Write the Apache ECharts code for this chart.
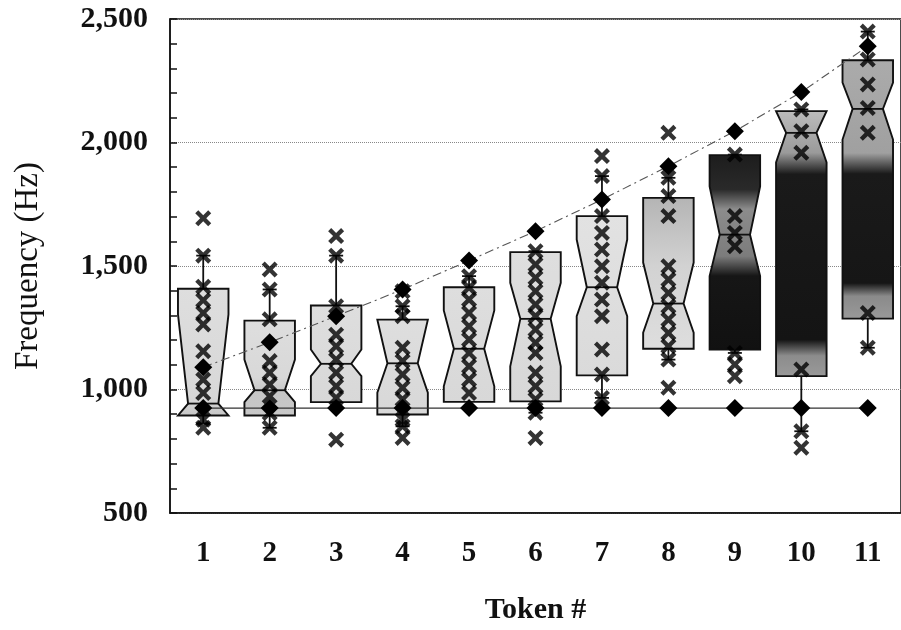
<!DOCTYPE html>
<html>
<head>
<meta charset="utf-8">
<script src="https://cdn.jsdelivr.net/npm/echarts@6/dist/echarts.min.js"></script>
<style>
html, body { margin: 0; padding: 0; background: #fff; }
#main { width: 901px; height: 630px; }
</style>
</head>
<body>
<div id="main"></div>
<script>
// token categories
var tokens = ['1', '2', '3', '4', '5', '6', '7', '8', '9', '10', '11'];

// notched box values (Hz)
var q1 = [895, 895, 949, 899, 950, 952, 1057, 1165, 1162, 1054, 1287];
var q3 = [1408, 1279, 1340, 1283, 1414, 1556, 1702, 1776, 1949, 2127, 2333];
var median = [943, 997, 1104, 1106, 1165, 1286, 1414, 1348, 1627, 2039, 2136];
var notchLo = [895, 949, 1054, 987, 1013, 1094, 1297, 1230, 1459, 1919, 2012];
var notchHi = [1304, 1121, 1162, 1283, 1320, 1432, 1607, 1514, 1822, 2127, 2243];
var whiskerLo = [862, 845, 925, 851, 950, 906, 966, 1121, 1148, 831, 1169];
var whiskerHi = [1542, 1405, 1542, 1337, 1459, 1560, 1864, 1857, 1951, 2134, 2449];

// individual measurements (x markers)
var points = [
  [1693, 1542, 1416, 1361, 1310, 1263, 1155, 1040, 986, 878, 845],
  [1486, 1405, 1284, 1115, 1068, 1020, 973, 905, 845],
  [1621, 1542, 1337, 1222, 1175, 1121, 1068, 1013, 966, 797],
  [1398, 1337, 1297, 1169, 1115, 1061, 1007, 960, 878, 851, 804],
  [1459, 1412, 1364, 1310, 1256, 1202, 1148, 1094, 1040, 986],
  [1560, 1506, 1452, 1398, 1344, 1297, 1243, 1189, 1148, 1068, 1013, 960, 906, 804],
  [1945, 1864, 1702, 1634, 1567, 1499, 1432, 1364, 1297, 1162, 1061, 966],
  [2039, 1857, 1783, 1702, 1499, 1445, 1391, 1337, 1283, 1229, 1175, 1121, 1007],
  [1951, 1702, 1634, 1580, 1148, 1101, 1054],
  [2134, 2046, 1958, 1081, 831, 764],
  [2449, 2336, 2235, 2140, 2039, 1310, 1169]
];

// diamond series
var upperDiamonds = [1090, 1191, 1297, 1405, 1522, 1641, 1769, 1904, 2046, 2204, 2390];
var lowerDiamonds = [925, 925, 925, 925, 925, 925, 925, 925, 925, 925, 925];

// box shading (top -> bottom)
var light = [[0, '#dedede'], [1, '#d8d8d8']];
var boxShade = [
  [[0, '#dedede'], [0.85, '#d8d8d8'], [1, '#c6c6c6']],
  [[0, '#dedede'], [0.6, '#d8d8d8'], [0.75, '#c6c6c6'], [1, '#c8c8c8']],
  light, light, light, light,
  [[0, '#e2e2e2'], [1, '#dadada']],
  [[0, '#b4b4b4'], [0.45, '#d2d2d2'], [1, '#dedede']],
  [[0, '#1c1c1c'], [0.18, '#2a2a2a'], [0.28, '#8c8c8c'], [0.52, '#7c7c7c'], [0.62, '#161616'], [1, '#111111']],
  [[0, '#bdbdbd'], [0.16, '#9a9a9a'], [0.24, '#1a1a1a'], [0.86, '#141414'], [0.92, '#8c8c8c'], [1, '#9a9a9a']],
  [[0, '#ababab'], [0.36, '#a0a0a0'], [0.44, '#1a1a1a'], [0.86, '#161616'], [0.91, '#8a8a8a'], [1, '#9a9a9a']]
];

var boxData = tokens.map(function (t, i) {
  return [i, q1[i], q3[i], median[i], notchLo[i], notchHi[i], whiskerLo[i], whiskerHi[i]];
});

var xData = [];
points.forEach(function (list, i) {
  list.forEach(function (v) { xData.push([i, v]); });
});

var crossPath = 'path://M0,1.9 L1.9,0 L5,3.1 L8.1,0 L10,1.9 L6.9,5 L10,8.1 L8.1,10 L5,6.9 L1.9,10 L0,8.1 L3.1,5 Z';
var serif = 'Liberation Serif';

function renderBox(params, api) {
  var i = api.value(0);
  var lo = api.value(1), hi = api.value(2), med = api.value(3);
  var nlo = Math.max(api.value(4), lo), nhi = Math.min(api.value(5), hi);
  var wlo = api.value(6), whi = api.value(7);
  var cx = api.coord([i, med])[0];
  var half = api.size([1, 0])[0] * 0.38;
  var inset = half * 0.4;
  var y = function (v) { return api.coord([i, v])[1]; };
  var xl = cx - half, xr = cx + half;
  var ln = { stroke: '#111', lineWidth: 1.8 };
  var kids = [];
  if (whi > hi) {
    kids.push({ type: 'line', shape: { x1: cx, y1: y(hi), x2: cx, y2: y(whi) }, style: ln });
    kids.push({ type: 'line', shape: { x1: cx - 7, y1: y(whi), x2: cx + 7, y2: y(whi) }, style: ln });
  }
  if (wlo < lo) {
    kids.push({ type: 'line', shape: { x1: cx, y1: y(lo), x2: cx, y2: y(wlo) }, style: ln });
    kids.push({ type: 'line', shape: { x1: cx - 7, y1: y(wlo), x2: cx + 7, y2: y(wlo) }, style: ln });
  }
  kids.push({
    type: 'polygon',
    shape: {
      points: [
        [xl, y(hi)], [xr, y(hi)], [xr, y(nhi)], [xr - inset, y(med)], [xr, y(nlo)],
        [xr, y(lo)], [xl, y(lo)], [xl, y(nlo)], [xl + inset, y(med)], [xl, y(nhi)]
      ]
    },
    style: {
      fill: new echarts.graphic.LinearGradient(0, 0, 0, 1, boxShade[i].map(function (s) {
        return { offset: s[0], color: s[1] };
      })),
      stroke: '#111',
      lineWidth: 1.9
    }
  });
  kids.push({
    type: 'line',
    shape: { x1: xl + inset, y1: y(med), x2: xr - inset, y2: y(med) },
    style: ln
  });
  return { type: 'group', children: kids };
}

var chart = echarts.init(document.getElementById('main'));
chart.setOption({
  backgroundColor: '#fff',
  animation: false,
  grid: {
    left: 170, top: 19, width: 737, height: 495,
    show: true, borderColor: '#111', borderWidth: 1.5
  },
  xAxis: {
    type: 'category',
    data: tokens,
    boundaryGap: true,
    axisLine: { lineStyle: { color: '#111', width: 1.5 } },
    axisTick: { inside: true, length: 11, lineStyle: { color: '#111', width: 1.5 } },
    axisLabel: { margin: 26, fontSize: 29, fontWeight: 'bold', fontFamily: serif, color: '#111' },
    splitLine: { show: false },
    name: 'Token #',
    nameLocation: 'middle',
    nameGap: 82,
    nameTextStyle: { fontSize: 30, fontWeight: 'bold', fontFamily: serif, color: '#111' }
  },
  yAxis: {
    type: 'value',
    min: 500, max: 2500, interval: 500,
    axisLine: { show: true, lineStyle: { color: '#111', width: 1.5 } },
    axisTick: { show: true, inside: true, length: 7, lineStyle: { color: '#111', width: 1.5 } },
    minorTick: { show: true, splitNumber: 5, length: 7, lineStyle: { color: '#111', width: 1.5 } },
    splitLine: { show: true, lineStyle: { color: '#888', type: 'dotted', width: 1 } },
    axisLabel: {
      margin: 22, fontSize: 30, fontWeight: 'bold', fontFamily: serif, color: '#111',
      formatter: function (v) { return v.toLocaleString('en-US'); }
    },
    name: 'Frequency (Hz)',
    nameLocation: 'middle',
    nameGap: 125,
    nameRotate: 90,
    nameTextStyle: { fontSize: 33, fontFamily: serif, color: '#111' }
  },
  series: [
    {
      type: 'custom',
      renderItem: renderBox,
      encode: { x: 0, y: [1, 2, 3, 4, 5, 6, 7] },
      data: boxData,
      z: 2
    },
    {
      type: 'line',
      data: lowerDiamonds,
      symbol: 'diamond',
      symbolSize: 18,
      showAllSymbol: true,
      lineStyle: { color: '#333', width: 1.2 },
      itemStyle: { color: '#000' },
      z: 3
    },
    {
      type: 'line',
      data: upperDiamonds,
      symbol: 'diamond',
      symbolSize: 18,
      showAllSymbol: true,
      lineStyle: { color: '#555', width: 1.1, type: [9, 4, 2, 4] },
      itemStyle: { color: '#000' },
      z: 3
    },
    {
      type: 'scatter',
      data: xData,
      symbol: crossPath,
      symbolSize: 16,
      itemStyle: { color: '#000' },
      z: 4
    }
  ]
});
</script>
</body>
</html>
